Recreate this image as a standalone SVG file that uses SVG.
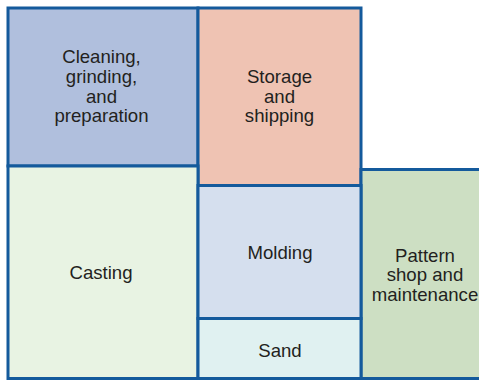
<svg xmlns="http://www.w3.org/2000/svg" width="479" height="380" viewBox="0 0 479 380">
<style>
.r{stroke:#145a9c;stroke-width:3}
.t{font-family:"Liberation Sans",Arial,sans-serif;font-size:18.6px;fill:#231f20;text-anchor:middle}
</style>
<rect width="479" height="380" fill="#fff"/>
<g id="cleaning"><rect class="r" x="8" y="8" width="190" height="158" fill="#b0bfdd"/>
<text class="t" x="101.5" y="63">Cleaning,</text><text class="t" x="101.5" y="83">grinding,</text><text class="t" x="101.5" y="102.5">and</text><text class="t" x="101.5" y="122">preparation</text></g>
<g id="storage"><rect class="r" x="198" y="8" width="163" height="177.5" fill="#efc3b3"/>
<text class="t" x="279.5" y="82.5">Storage</text><text class="t" x="279.5" y="102.5">and</text><text class="t" x="279.5" y="122">shipping</text></g>
<g id="casting"><rect class="r" x="8" y="166" width="190" height="212.5" fill="#e8f3e3"/>
<text class="t" x="101" y="279">Casting</text></g>
<g id="pattern"><rect class="r" x="361" y="169.5" width="125" height="209" fill="#cddfc3"/>
<text class="t" x="425" y="261.5">Pattern</text><text class="t" x="425" y="281">shop and</text><text class="t" x="425" y="300.5">maintenance</text></g>
<g id="molding"><rect class="r" x="198" y="185.5" width="163" height="133" fill="#d5dfee"/>
<text class="t" x="280" y="259">Molding</text></g>
<g id="sand"><rect class="r" x="198" y="318.5" width="163" height="60" fill="#e0f1f1"/>
<text class="t" x="280" y="357">Sand</text></g>
<g id="connectors"></g>
</svg>
